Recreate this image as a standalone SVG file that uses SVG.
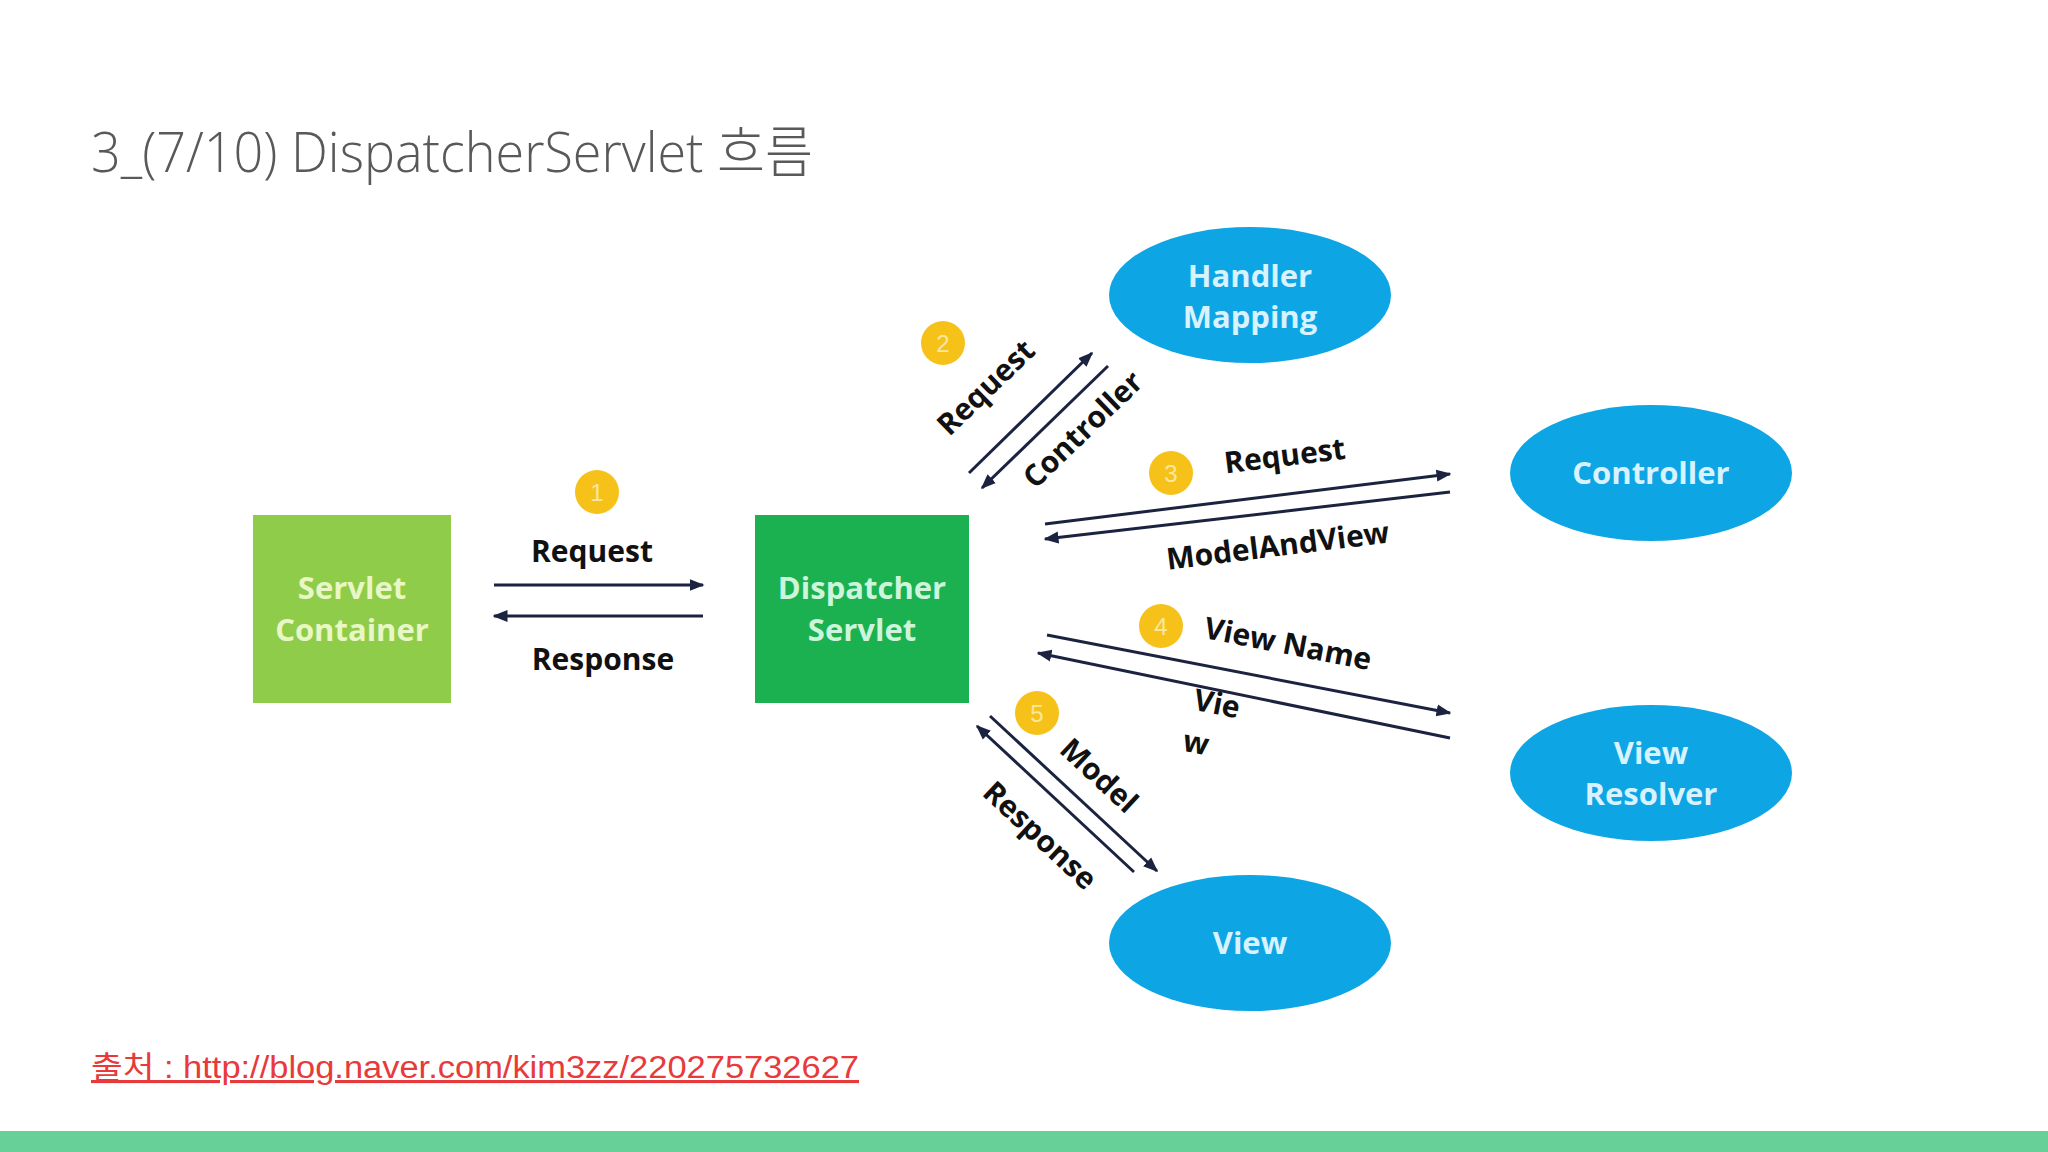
<svg xmlns="http://www.w3.org/2000/svg" width="2048" height="1152" viewBox="0 0 2048 1152">
<defs>
<marker id="ah" viewBox="0 0 10 10" refX="9" refY="5" markerWidth="5" markerHeight="5" orient="auto" markerUnits="strokeWidth">
<path d="M0,1 L10,5 L0,9 z" fill="#1c2340"/>
</marker>
</defs>
<style>
.title{font-family:"Open Sans","Noto Sans CJK KR",sans-serif;font-weight:300;font-size:56px;fill:#595959}
.lbl{font-family:"Open Sans","Noto Sans CJK KR",sans-serif;font-weight:700;font-size:30px;fill:#111}
.nt{font-family:"Open Sans","Noto Sans CJK KR",sans-serif;font-weight:700;font-size:31px;text-anchor:middle}
.ell{fill:#0ea5e4}
.et{fill:#d8f3ff}
.ln{stroke:#1c2340;stroke-width:3;fill:none}
.arr{marker-end:url(#ah)}
.badge{fill:#f6c21a}
.bt{font-family:"Liberation Sans",sans-serif;font-size:24px;fill:#fbe7a0;text-anchor:middle}
.foot{font-family:"Liberation Sans","Noto Sans CJK KR",sans-serif;font-size:31px;fill:#e83a3a;text-decoration:underline}
.c{text-anchor:middle}
</style>
<rect width="2048" height="1152" fill="#ffffff"/>
<text class="title" x="91" y="172" textLength="722" lengthAdjust="spacingAndGlyphs">3_(7/10) DispatcherServlet 흐름</text>

<g id="servlet-container">
<rect x="253" y="515" width="198" height="188" fill="#8fcc4a"/>
<text class="nt" x="352" y="599" fill="#e9f7c6">Servlet</text>
<text class="nt" x="352" y="641" fill="#e9f7c6">Container</text>
</g>
<g id="dispatcher-servlet">
<rect x="755" y="515" width="214" height="188" fill="#1cb150"/>
<text class="nt" x="862" y="599" fill="#cdf5dc">Dispatcher</text>
<text class="nt" x="862" y="641" fill="#cdf5dc">Servlet</text>
</g>
<g id="handler-mapping">
<ellipse class="ell" cx="1250" cy="295" rx="141" ry="68"/>
<text class="nt et" x="1250" y="287">Handler</text>
<text class="nt et" x="1250" y="328">Mapping</text>
</g>
<g id="controller">
<ellipse class="ell" cx="1651" cy="473" rx="141" ry="68"/>
<text class="nt et" x="1651" y="484">Controller</text>
</g>
<g id="view-resolver">
<ellipse class="ell" cx="1651" cy="773" rx="141" ry="68"/>
<text class="nt et" x="1651" y="764">View</text>
<text class="nt et" x="1651" y="805">Resolver</text>
</g>
<g id="view">
<ellipse class="ell" cx="1250" cy="943" rx="141" ry="68"/>
<text class="nt et" x="1250" y="954">View</text>
</g>

<g id="connectors">
<line class="ln arr" x1="494" y1="585" x2="703" y2="585"/>
<line class="ln arr" x1="703" y1="616" x2="494" y2="616"/>
<line class="ln arr" x1="969" y1="473" x2="1092" y2="353"/>
<line class="ln arr" x1="1108" y1="366" x2="982" y2="488"/>
<line class="ln arr" x1="1045" y1="524" x2="1450" y2="474"/>
<line class="ln arr" x1="1450" y1="492" x2="1045" y2="539"/>
<line class="ln arr" x1="1047" y1="635" x2="1450" y2="713"/>
<line class="ln arr" x1="1450" y1="738" x2="1038" y2="653"/>
<line class="ln arr" x1="990" y1="716" x2="1157" y2="871"/>
<line class="ln arr" x1="1134" y1="872" x2="977" y2="726"/>

<text class="lbl c" x="592" y="562">Request</text>
<text class="lbl c" x="603" y="670">Response</text>
<text class="lbl c" transform="translate(993,395) rotate(-44)">Request</text>
<text class="lbl c" transform="translate(1090,437) rotate(-44)">Controller</text>
<text class="lbl c" transform="translate(1286,466) rotate(-7)">Request</text>
<text class="lbl c" transform="translate(1279,556) rotate(-7)">ModelAndView</text>
<text class="lbl c" transform="translate(1286,654) rotate(11)">View Name</text>
<text class="lbl c" transform="translate(1215,714) rotate(11)">Vie</text>
<text class="lbl c" transform="translate(1194,753) rotate(11)">w</text>
<text class="lbl c" transform="translate(1092,783) rotate(43)">Model</text>
<text class="lbl c" transform="translate(1033,843) rotate(43)">Response</text>

<circle class="badge" cx="597" cy="492" r="22"/><text class="bt" x="597" y="501">1</text>
<circle class="badge" cx="943" cy="343" r="22"/><text class="bt" x="943" y="352">2</text>
<circle class="badge" cx="1171" cy="473" r="22"/><text class="bt" x="1171" y="482">3</text>
<circle class="badge" cx="1161" cy="626" r="22"/><text class="bt" x="1161" y="635">4</text>
<circle class="badge" cx="1037" cy="713" r="22"/><text class="bt" x="1037" y="722">5</text>
</g>

<text class="foot" x="91" y="1078" textLength="768" lengthAdjust="spacingAndGlyphs">출처 : http://blog.naver.com/kim3zz/220275732627</text>
<rect x="0" y="1131" width="2048" height="21" fill="#66d098"/>
</svg>
